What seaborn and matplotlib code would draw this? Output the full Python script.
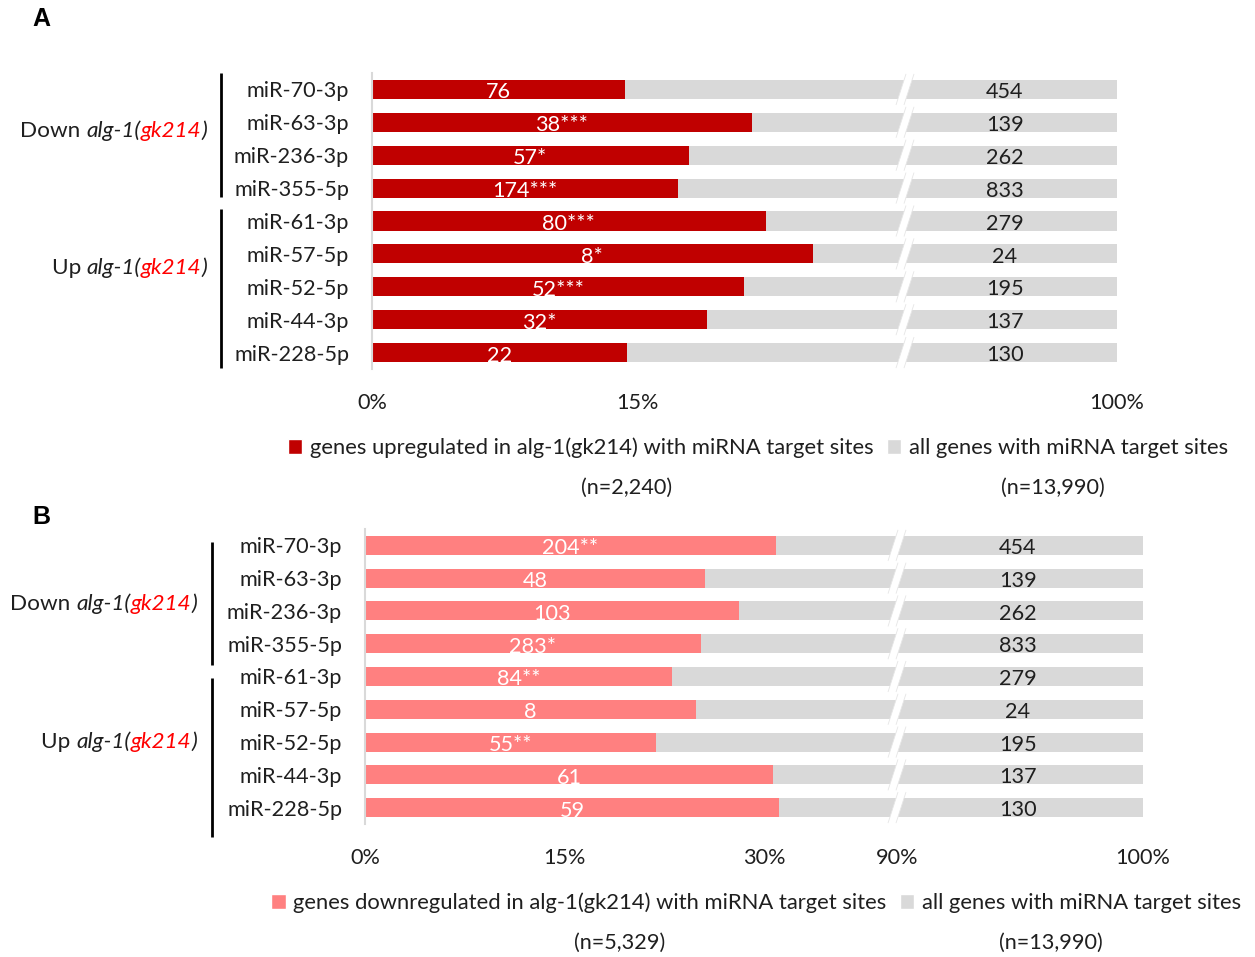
import numpy as np
import pandas as pd
import matplotlib
matplotlib.use("Agg")
import matplotlib.pyplot as plt
import seaborn as sns
from matplotlib.offsetbox import TextArea, HPacker, AnnotationBbox
from matplotlib.patches import Polygon, Patch
from matplotlib.lines import Line2D

# miRNAs and their predicted target counts
mirnas = ["miR-70-3p", "miR-63-3p", "miR-236-3p", "miR-355-5p", "miR-61-3p",
          "miR-57-5p", "miR-52-5p", "miR-44-3p", "miR-228-5p"]
all_targets = [454, 139, 262, 833, 279, 24, 195, 137, 130]
up_targets = [76, 38, 57, 174, 80, 8, 52, 32, 22]
up_signif = ["", "***", "*", "***", "***", "*", "***", "*", ""]
down_targets = [204, 48, 103, 283, 84, 8, 55, 61, 59]
down_signif = ["**", "", "", "*", "**", "", "**", "", ""]
n_up_label = "(n=2,240)"
n_down_label = "(n=5,329)"
n_all_label = "(n=13,990)"
ticks_a = ["0%", "15%", "100%"]
ticks_b = ["0%", "15%", "30%", "90%", "100%"]

RED = "#C00000"
PINK = "#FF8080"
GREY = "#D9D9D9"
INK = "#1f1f1f"
FS = 15.6

sns.set_theme(style="white")
plt.rcParams["font.family"] = ["Lato", "DejaVu Sans"]

W_PX, H_PX = 1255, 957
fig = plt.figure(figsize=(W_PX / 100, H_PX / 100), dpi=100)


def fx(px):
    return px / W_PX


def fy(py):
    return 1 - py / H_PX


def draw_panel(box, counts, signif, colour, gain, offset, break_x, total_x,
               tick_pos, tick_labels):
    left, top, right, bottom = box
    ax = fig.add_axes([fx(left), fy(bottom), (right - left) / W_PX, (bottom - top) / H_PX])
    width = right - left
    share = 100 * np.asarray(counts) / np.asarray(all_targets)
    # bar extent on the compressed display axis
    extent = gain * np.sqrt(share) + offset
    df = pd.DataFrame({"mirna": mirnas, "full": float(width), "subset": extent})
    sns.barplot(data=df, y="mirna", x="full", color=GREY, width=0.58, saturation=1,
                errorbar=None, linewidth=0, orient="h", ax=ax)
    sns.barplot(data=df, y="mirna", x="subset", color=colour, width=0.58, saturation=1,
                errorbar=None, linewidth=0, orient="h", ax=ax)

    # axis break across every bar
    px_per_cat = (bottom - top) / len(mirnas)
    half = 15.5 / px_per_cat
    lean = 5.0
    gap = 4.0
    for i in range(len(mirnas)):
        xt, xb = break_x + lean, break_x - lean
        yt, yb = i - half, i + half
        ax.add_patch(Polygon([(xb - gap, yb), (xt - gap, yt), (xt + gap, yt), (xb + gap, yb)],
                             closed=True, facecolor="white", edgecolor="none", zorder=5))
        for s in (-gap, gap):
            ax.plot([xb + s, xt + s], [yb, yt], color="#E6E6E6", lw=0.6, zorder=6,
                    solid_capstyle="butt")

    for i, (c, s, t, e) in enumerate(zip(counts, signif, all_targets, extent)):
        ax.text(e / 2, i + 0.09, f"{c}{s}", ha="center", va="center", color="white",
                fontsize=FS, zorder=7)
        ax.text(total_x, i + 0.08, f"{t}", ha="center", va="center", color=INK,
                fontsize=FS, zorder=7)

    ax.set_xlim(0, width)
    ax.set_ylim(len(mirnas) - 0.5, -0.5)
    ax.set_xticks(tick_pos)
    ax.set_xticklabels(tick_labels)
    ax.set_xlabel("")
    ax.set_ylabel("")
    ax.tick_params(axis="both", length=0, labelsize=FS, colors=INK)
    ax.tick_params(axis="y", pad=16.5)
    ax.tick_params(axis="x", pad=17)
    for side in ("top", "right", "bottom"):
        ax.spines[side].set_visible(False)
    ax.spines["left"].set_color(GREY)
    ax.spines["left"].set_linewidth(1.5)
    return ax


# Panel A: genes upregulated in alg-1(gk214)
draw_panel((372, 73, 1117, 369), up_targets, up_signif, RED, 111.77, -204.8,
           533, 633, [0, 265, 745], ticks_a)
# Panel B: genes downregulated in alg-1(gk214)
draw_panel((365, 529, 1143, 824), down_targets, down_signif, PINK, 85.86, -164.6,
           532, 653, [0, 199, 399, 532, 778], ticks_b)


def group_label(text, x_right, y_mid):
    parts = [TextArea(text + " ", textprops=dict(color=INK, fontsize=FS + 0.6)),
             TextArea("alg-1(", textprops=dict(color=INK, fontsize=FS + 0.6, style="italic")),
             TextArea("gk214", textprops=dict(color="#FF0000", fontsize=FS + 0.6, style="italic")),
             TextArea(")", textprops=dict(color=INK, fontsize=FS + 0.6, style="italic"))]
    box = HPacker(children=parts, align="baseline", pad=0, sep=0)
    fig.add_artist(AnnotationBbox(box, (fx(x_right), fy(y_mid)), xycoords="figure fraction",
                                  box_alignment=(1, 0.5), frameon=False, pad=0))


group_label("Down", 207, 131)
group_label("Up", 207, 268)
group_label("Down", 197, 604)
group_label("Up", 197, 742)

for x, y0, y1 in [(220.7, 73, 197), (220.7, 209, 368), (211.7, 542, 665), (211.7, 678, 837)]:
    fig.add_artist(Line2D([fx(x), fx(x)], [fy(y0), fy(y1)], color="black", lw=2,
                          solid_capstyle="butt"))

for letter, y in [("A", 19), ("B", 517)]:
    fig.text(fx(32), fy(y), letter, ha="left", va="center", fontsize=18,
             fontweight="bold", family="Liberation Sans", color="black")

legend_kw = dict(loc="center", ncol=2, frameon=False, fontsize=FS + 0.2, handlelength=0.66,
                 handleheight=0.66, handletextpad=0.35, columnspacing=0.6,
                 labelcolor=INK, borderaxespad=0, borderpad=0)
fig.legend([Patch(facecolor=RED), Patch(facecolor=GREY)],
           ["genes upregulated in alg-1(gk214) with miRNA target sites",
            "all genes with miRNA target sites"],
           bbox_to_anchor=(fx(758), fy(448)), **legend_kw)
fig.legend([Patch(facecolor=PINK), Patch(facecolor=GREY)],
           ["genes downregulated in alg-1(gk214) with miRNA target sites",
            "all genes with miRNA target sites"],
           bbox_to_anchor=(fx(756), fy(903)), **legend_kw)

for x, y, t in [(627, 488, n_up_label), (1053, 488, n_all_label),
                (620, 943, n_down_label), (1051, 943, n_all_label)]:
    fig.text(fx(x), fy(y), t, ha="center", va="center", fontsize=FS, color=INK)

fig.savefig("out.png", dpi=100, facecolor="white")
